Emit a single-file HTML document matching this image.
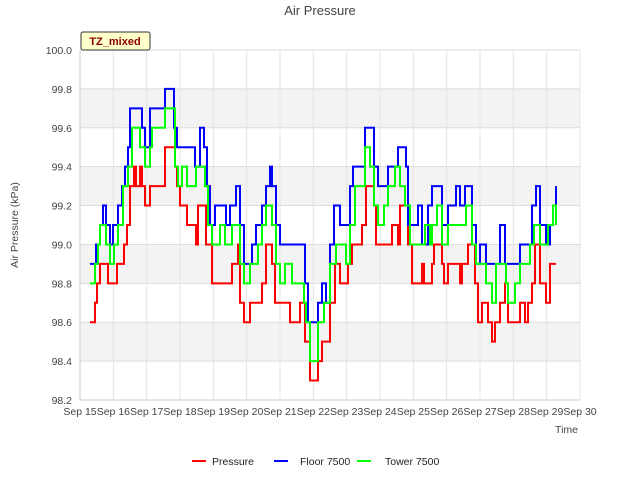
<!DOCTYPE html>
<html><head><meta charset="utf-8"><style>
body{margin:0;background:#fff;font-family:"Liberation Sans",sans-serif}
text{font-family:"Liberation Sans",sans-serif}
</style></head><body>
<svg id="c" width="640" height="480" xmlns="http://www.w3.org/2000/svg">
<rect width="640" height="480" fill="#fff"/>
<g id="grid"></g>
<g id="series"></g>
<g id="axes"></g>
<text x="320" y="15" text-anchor="middle" font-size="13" fill="#444">Air Pressure</text>
<text x="18" y="225" text-anchor="middle" font-size="10.5" fill="#444" transform="rotate(-90 18 225)">Air Pressure (kPa)</text>
<text x="578" y="433" text-anchor="end" font-size="10.5" fill="#444">Time</text>
<g>
<rect x="81" y="32" width="69" height="18" fill="#ffffcc" stroke="#333" stroke-width="1" rx="2"/>
<text x="115" y="45" text-anchor="middle" font-size="11" font-weight="bold" fill="#8b0000">TZ_mixed</text>
</g>
<g>
<g><line x1="192" y1="461" x2="206" y2="461" stroke="#f00" stroke-width="2"/><text x="212" y="465" font-size="10.5" fill="#222">Pressure</text></g>
<g><line x1="274" y1="461" x2="288" y2="461" stroke="#00f" stroke-width="2"/><text x="300" y="465" font-size="10.5" fill="#222">Floor 7500</text></g>
<g><line x1="357" y1="461" x2="371" y2="461" stroke="#0f0" stroke-width="2"/><text x="385" y="465" font-size="10.5" fill="#222">Tower 7500</text></g>
</g>
</svg>
<script>
const xTickLabels=["Sep 15","Sep 16","Sep 17","Sep 18","Sep 19","Sep 20","Sep 21","Sep 22","Sep 23","Sep 24","Sep 25","Sep 26","Sep 27","Sep 28","Sep 29","Sep 30"];
const yTicks=[98.2,98.4,98.6,98.8,99.0,99.2,99.4,99.6,99.8,100.0];
const pressureT=[0.30,0.45,0.51,0.60,0.84,1.11,1.32,1.41,1.50,1.62,1.68,1.80,1.86,1.95,2.10,2.40,2.55,2.85,2.91,3.0,3.21,3.48,3.54,3.78,3.96,4.56,4.74,4.80,4.92,5.10,5.46,5.58,5.76,5.85,6.30,6.60,6.75,6.90,7.14,7.26,7.50,7.65,7.80,8.04,8.16,8.46,8.58,8.82,8.88,9.36,9.54,9.60,9.84,9.96,10.26,10.32,10.56,10.62,10.86,10.92,11.04,11.40,11.46,11.64,11.85,11.94,12.06,12.24,12.36,12.45,12.60,12.75,12.84,13.20,13.35,13.44,13.56,13.65,13.80,13.98,14.10,14.28];
const pressureV=[98.6,98.7,98.8,98.9,98.8,98.9,99.0,99.1,99.3,99.4,99.3,99.4,99.3,99.2,99.3,99.3,99.5,99.4,99.3,99.2,99.1,99.0,99.2,99.0,98.8,98.9,99.0,98.7,98.6,98.7,98.8,99.0,98.9,98.7,98.6,98.7,98.5,98.3,98.4,98.5,98.7,98.9,98.8,98.9,99.0,99.1,99.3,99.2,99.0,99.1,99.0,99.2,99.0,98.8,98.9,98.8,98.9,99.0,98.9,98.8,98.9,98.8,98.9,99.0,98.8,98.6,98.7,98.6,98.5,98.6,98.7,98.8,98.6,98.7,98.6,98.7,98.8,99.0,98.8,98.7,98.9,98.9];
const floorT=[0.30,0.48,0.60,0.69,0.78,0.90,0.99,1.14,1.26,1.35,1.44,1.50,1.86,1.95,2.10,2.55,2.82,2.91,3.45,3.60,3.72,3.81,3.90,4.05,4.38,4.50,4.68,4.80,4.92,5.16,5.28,5.46,5.58,5.70,5.76,5.88,6.00,6.54,6.75,6.84,7.14,7.26,7.38,7.50,7.62,7.80,8.10,8.19,8.55,8.82,8.94,9.24,9.54,9.78,9.84,10.14,10.26,10.44,10.56,10.86,11.04,11.28,11.40,11.55,11.76,11.88,12.00,12.18,12.48,12.60,12.75,13.05,13.20,13.56,13.68,13.80,13.98,14.10,14.19,14.28];
const floorV=[98.9,99.0,99.1,99.2,99.1,99.0,99.1,99.2,99.3,99.4,99.5,99.7,99.6,99.5,99.7,99.8,99.6,99.5,99.4,99.6,99.5,99.3,99.1,99.2,99.1,99.2,99.3,99.1,98.9,99.0,99.1,99.2,99.3,99.4,99.3,99.1,99.0,99.0,98.8,98.6,98.7,98.8,98.7,99.0,99.2,99.1,99.3,99.4,99.6,99.4,99.3,99.4,99.5,99.4,99.1,99.2,99.0,99.2,99.3,99.1,99.2,99.3,99.2,99.3,99.1,98.9,99.0,98.9,98.9,99.1,98.9,98.9,99.0,99.2,99.3,99.1,99.0,99.1,99.2,99.3];
const towerT=[0.30,0.45,0.54,0.60,0.78,0.90,1.02,1.14,1.29,1.44,1.56,1.80,1.95,2.10,2.16,2.40,2.55,2.85,2.94,3.06,3.21,3.48,3.75,3.84,3.96,4.20,4.35,4.56,4.80,4.92,5.10,5.34,5.46,5.58,5.76,5.88,6.00,6.15,6.36,6.72,6.78,6.90,7.14,7.32,7.50,7.68,7.86,7.98,8.10,8.25,8.55,8.70,8.82,8.94,9.12,9.24,9.45,9.60,9.75,9.90,10.26,10.35,10.50,10.56,10.71,10.86,11.04,11.58,11.76,11.88,12.00,12.18,12.36,12.48,12.78,12.84,13.05,13.20,13.50,13.62,13.80,13.98,14.04,14.19,14.28];
const towerV=[98.8,98.9,99.0,99.1,99.0,98.9,99.0,99.1,99.3,99.4,99.6,99.5,99.4,99.5,99.6,99.6,99.7,99.4,99.3,99.4,99.3,99.4,99.3,99.1,99.0,99.1,99.0,99.1,98.9,98.8,98.9,99.0,99.1,99.2,99.1,98.9,98.8,98.9,98.8,98.7,98.6,98.4,98.6,98.7,98.9,99.0,99.0,98.9,99.1,99.3,99.5,99.4,99.2,99.1,99.2,99.3,99.4,99.3,99.2,99.0,99.0,99.1,99.0,99.1,99.2,99.0,99.1,99.2,99.0,98.9,98.9,98.8,98.7,98.9,98.8,98.7,98.8,98.9,99.0,99.1,99.0,99.0,99.1,99.2,99.1];
const X0=80,X1=580,Y0=400,Y1=50,ymin=98.2,ymax=100.0,days=15;
const xs=d=>X0+(X1-X0)*d/days;
const ys=v=>Y0-(Y0-Y1)*(v-ymin)/(ymax-ymin);
const NS="http://www.w3.org/2000/svg";
function mk(tag,attrs,parent){const e=document.createElementNS(NS,tag);for(const k in attrs)e.setAttribute(k,attrs[k]);parent.appendChild(e);return e;}
const grid=document.getElementById('grid'),axes=document.getElementById('axes'),ser=document.getElementById('series');
for(let i=0;i<yTicks.length-1;i++){
 if(i%2===1){const b=mk('rect',{x:X0,y:ys(yTicks[i+1]),width:X1-X0,height:ys(yTicks[i])-ys(yTicks[i+1]),fill:'#f3f3f3'},grid);
 
 }
}
yTicks.forEach(v=>{
 const l=mk('line',{x1:X0,x2:X1,y1:ys(v),y2:ys(v),stroke:'#ddd'},grid);
 
 
 const t=mk('text',{x:X0-8,y:ys(v)+4,'text-anchor':'end','font-size':'10.5',fill:'#444'},axes);
 t.textContent=v.toFixed(1);
 
 
});
xTickLabels.forEach((s,i)=>{
 const l=mk('line',{x1:xs(i),x2:xs(i),y1:Y1,y2:Y0,stroke:'#e4e4e4'},grid);
 
 
 const t=mk('text',{x:xs(i),y:415,'text-anchor':'middle','font-size':'10.5',fill:'#444'},axes);
 t.textContent=s;
 
 
});
const ax=mk('path',{d:`M${X0},${Y1}V${Y0}H${X1}`,fill:'none',stroke:'#ccc'},axes);


function step(T,V,color,name){
 let d=`M${xs(T[0])},${ys(V[0])}`;
 for(let i=1;i<T.length;i++){d+=`H${xs(T[i])}V${ys(V[i])}`;}
 const p=mk('path',{d,fill:'none',stroke:color,'stroke-width':2},ser);
 
 
}
step(pressureT,pressureV,'#f00','pressure-line');
step(floorT,floorV,'#00f','floor-7500-line');
step(towerT,towerV,'#0f0','tower-7500-line');
</script>
</body></html>
